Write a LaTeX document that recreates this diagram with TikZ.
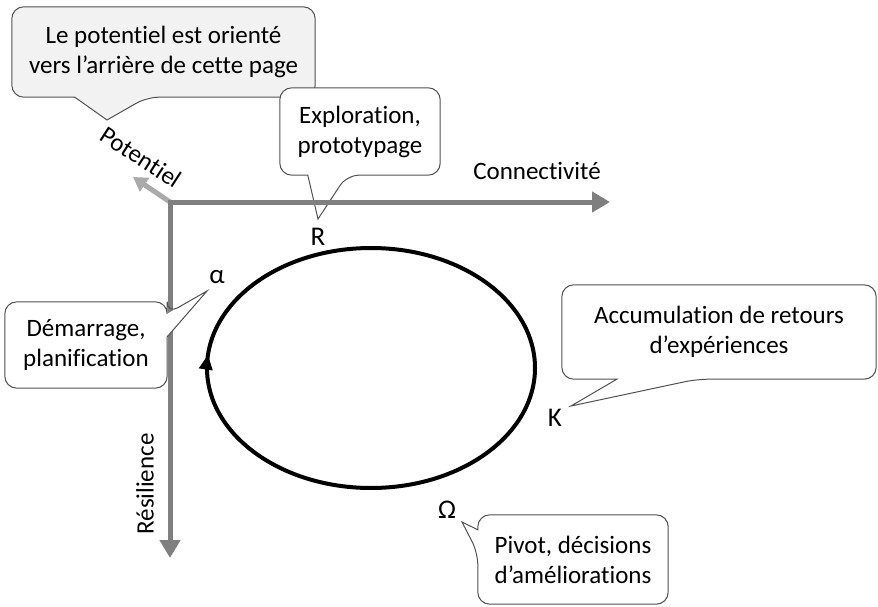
\documentclass[tikz,border=0pt]{standalone}
\usepackage{fontspec}
\setmainfont{Carlito}[Ligatures={NoCommon}]
\usetikzlibrary{arrows.meta,calc,decorations.markings}
\definecolor{axegris}{RGB}{127,127,127}
\definecolor{potgris}{RGB}{170,170,170}
\definecolor{fondgris}{RGB}{242,242,242}
\definecolor{bord}{RGB}{80,80,80}
\tikzset{
  bulle/.style = {rectangle, rounded corners=12pt, fill=white, align=center, inner sep=0pt, font=\fontsize{25}{30}\selectfont},
  contour/.style = {draw=bord, line width=1pt, rounded corners=12pt},
  axe/.style = {draw=axegris, line width=5pt},
  pointe/.tip = {Triangle[length=18pt, width=20pt]},
  etiquette/.style = {font=\fontsize{25}{30}\selectfont},
  lettre/.style = {font=\fontsize{27}{30}\selectfont},
}

\begin{document}
\begin{tikzpicture}[x=1pt, y=-1pt]
  \useasboundingbox (0,0) rectangle (878,607);

  % bulle du potentiel
  \node [bulle, fill=fondgris, minimum width=303pt, minimum height=90pt] (pot) at (163.5,52) {Le potentiel est orienté\\vers l’arrière de cette page};
  \coordinate (potP) at (107,120);
  \fill [fondgris] ($(pot.south west)+(63,0)$) -- (potP) -- ($(pot.south west)+(135,0)$) -- cycle;
  \draw [contour] (pot.north) -- (pot.north east) -- (pot.south east) -- ($(pot.south west)+(135,0)$) [sharp corners] -- (potP) -- ($(pot.south west)+(63,0)$) [rounded corners=12pt] -- (pot.south west) -- (pot.north west) -- cycle;

  % bulle R
  \node [bulle, minimum width=160pt, minimum height=87pt] (explo) at (360,131.5) {Exploration,\\prototypage};
  \coordinate (exploP) at (318,219);
  \draw [contour] (explo.north) -- (explo.north east) -- (explo.south east) -- ($(explo.south west)+(67,0)$) [sharp corners] -- (exploP) -- ($(explo.south west)+(28,0)$) [rounded corners=12pt] -- (explo.south west) -- (explo.north west) -- cycle;

  % axes
  \coordinate (O) at (170,202);
  \coordinate (bas) at (170,558);
  \coordinate (droite) at (610,202);
  \coordinate (arriere) at (133,177);
  \draw [draw=potgris, line width=5pt, -{Triangle[length=14pt, width=16pt]}] (O) -- (arriere);
  \draw [axe, pointe-pointe] (bas) -- (O) -- (droite);
  \node [etiquette, rotate=-33] (potentiel) at (141,157) {Potentiel};
  \node [etiquette] (connect) at (537,171) {Connectivité};
  \node [etiquette, rotate=90] (resil) at (145,484) {Résilience};

  % cycle adaptatif
  \draw [line width=4pt, postaction={decorate}, decoration={markings, mark=at position 0.515 with {\arrow{Triangle[length=15pt, width=13pt]}}}] (371,368) ellipse (164 and 120);

  % bulle alpha
  \node [bulle, minimum width=162pt, minimum height=86pt] (dem) at (86,345) {Démarrage,\\planification};
  \coordinate (demP) at (207,291);
  \fill [white] ($(dem.north east)+(0,12)$) -- (demP) -- ($(dem.north east)+(0,35)$) -- cycle;
  \draw [contour] (dem.north) -- (dem.north east) -- ($(dem.north east)+(0,12)$) [sharp corners] -- (demP) -- ($(dem.north east)+(0,35)$) [rounded corners=12pt] -- (dem.south east) -- (dem.south west) -- (dem.north west) -- cycle;

  % bulle K
  \node [bulle, minimum width=314pt, minimum height=94pt] (accu) at (719,332) {Accumulation de retours\\d’expériences};
  \coordinate (accuP) at (571,406);
  \draw [contour] (accu.north) -- (accu.north east) -- (accu.south east) -- ($(accu.south west)+(135,0)$) [sharp corners] -- (accuP) -- ($(accu.south west)+(55,0)$) [rounded corners=12pt] -- (accu.south west) -- (accu.north west) -- cycle;

  % bulle Omega
  \node [bulle, minimum width=190pt, minimum height=89pt] (piv) at (573,559.5) {Pivot, décisions\\d’améliorations};
  \coordinate (pivP) at (462,522);
  \draw [contour] (piv.north) -- (piv.north east) -- (piv.south east) -- (piv.south west) -- ($(piv.north west)+(0,38)$) [sharp corners] -- (pivP) -- ($(piv.north west)+(0,15)$) [rounded corners=12pt] -- (piv.north west) -- cycle;

  % phases
  \node [lettre] (R) at (318,237) {R};
  \node [lettre] (alpha) at (217,277) {α};
  \node [lettre] (K) at (555,418) {K};
  \node [lettre] (omega) at (447,510) {Ω};
\end{tikzpicture}
\end{document}
